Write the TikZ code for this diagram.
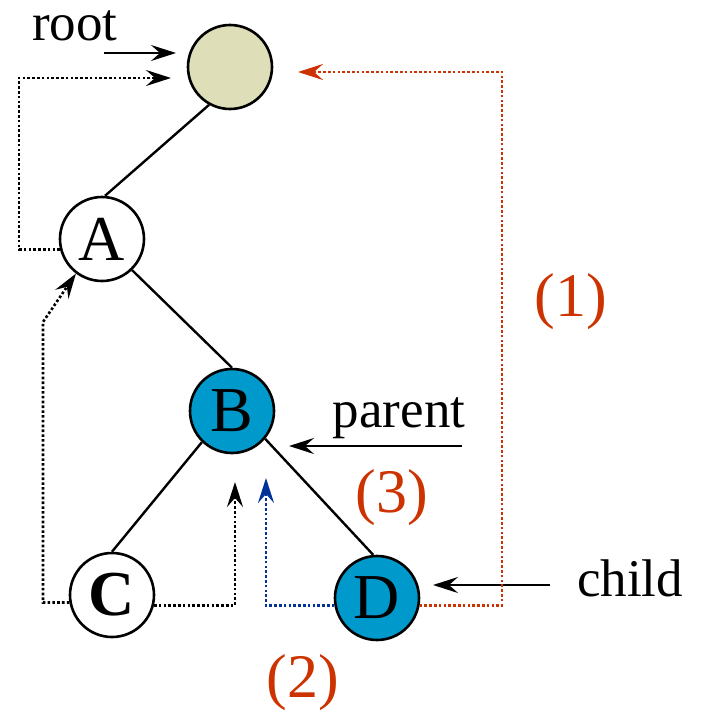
\documentclass[tikz,border=0pt]{standalone}
\usepackage{fontspec}
\setmainfont{Liberation Serif}
\usetikzlibrary{arrows.meta}
\definecolor{rootfill}{RGB}{222,222,184}
\definecolor{nodeblue}{RGB}{0,153,204}
\definecolor{pathred}{RGB}{204,51,0}
\definecolor{pathblue}{RGB}{0,51,153}
\tikzset{
    treenode/.style = {circle, minimum size=42pt, inner sep=0pt, text centered, draw=black, line width=1.3pt, fill=white, font=\fontsize{32}{32}\selectfont},
    rootnode/.style = {treenode, fill=rootfill},
    marked/.style = {treenode, fill=nodeblue},
    pointer/.style = {font=\fontsize{26.5}{26.5}\selectfont, inner sep=0pt},
    steptag/.style = {text=pathred, font=\fontsize{31}{31}\selectfont, inner sep=0pt},
    treeline/.style = {line width=1.2pt},
    arrow/.style = {line width=1.2pt, -{Stealth[length=12.5pt, width=8pt, inset=4.5pt]}},
    dotarrow/.style = {arrow, line width=1.3pt, dash pattern=on 1.3pt off 1.1pt}
}
\begin{document}
\begin{tikzpicture}[x=0.5pt, y=-0.5pt]
\useasboundingbox (0,0) rectangle (704,712);

\node (root) [rootnode] at (230,67) {};
\node (A) [treenode] at (102,239) {A};
\node (B) [marked] at (232,411) {B};
\node (C) [treenode] at (112,595) {\textbf{C}};
\node (D) [marked] at (377,598) {D};

\node (rootlbl) [pointer, anchor=base] at (75,40) {root};
\node (parentlbl) [pointer, anchor=base] at (399,427) {parent};
\node (childlbl) [pointer, anchor=base] at (630,596) {child};
\node (step1) [steptag] at (571,302) {(1)};
\node (step3) [steptag] at (392,498) {(3)};
\node (step2) [steptag] at (303,683) {(2)};

\draw [treeline] (root.241) -- (A.86);
\draw [treeline] (A.-46) -- (B.north);
\draw [treeline] (B.226) -- (C.north);
\draw [treeline] (B.-40) -- (D.95);

% pointers
\coordinate (roottail) at (104,53);
\coordinate (roottip) at (176,53);
\coordinate (parenttail) at (462,446);
\coordinate (parenttip) at (289,446);
\coordinate (childtail) at (550,585);
\coordinate (childtip) at (433,585);
\draw [arrow] (roottail) -- (roottip);
\draw [arrow] (parenttail) -- (parenttip);
\draw [arrow] (childtail) -- (childtip);

% parent links
\coordinate (aleft) at (19,78);
\coordinate (atip) at (171,78);
\coordinate (cbend) at (43,322);
\coordinate (ctip) at (235,482);
\coordinate (bluetip) at (266,478);
\coordinate (redtop) at (502,72);
\coordinate (redtip) at (298,72);
\draw [dotarrow] (A.194) -| (aleft) -- (atip);
\draw [dotarrow] (C.190) -| (cbend) -- (A.233);
\draw [dotarrow] (C.-14) -| (ctip);
\draw [dotarrow, pathblue] (D.190) -| (bluetip);
\draw [dotarrow, pathred] (D.-10) -| (redtop) -- (redtip);
\end{tikzpicture}
\end{document}
